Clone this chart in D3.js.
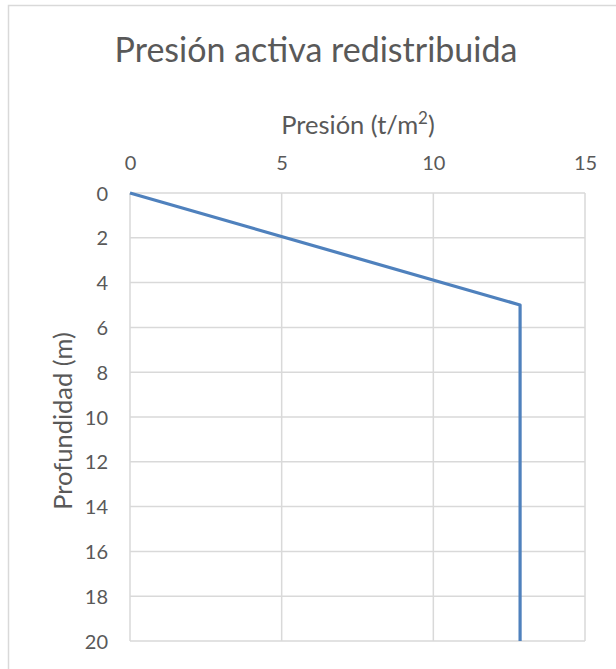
<!DOCTYPE html>
<html lang="es">
<head>
<meta charset="utf-8">
<title>Presión activa redistribuida</title>
<script src="https://cdn.jsdelivr.net/npm/d3@7"></script>
<style>
  body { margin: 0; background: #fff; }
  text { font-family: Lato, "Open Sans", sans-serif; fill: #595959; }
</style>
</head>
<body>
<script>
// datos
var presion = [0, 12.86, 12.86];
var profundidad = [0, 5, 20];
var xTicks = [0, 5, 10, 15];
var yTicks = [0, 2, 4, 6, 8, 10, 12, 14, 16, 18, 20];

var width = 616, height = 669;
var margin = {left: 130, right: 31, top: 193, bottom: 28};

var svg = d3.select("body").append("svg")
    .attr("width", width)
    .attr("height", height);

// marco del area del grafico
svg.append("rect")
    .attr("x", 8.5).attr("y", 5.5)
    .attr("width", width + 10).attr("height", height + 10)
    .attr("fill", "none").attr("stroke", "#d9d9d9").attr("stroke-width", 1.5);

var x = d3.scaleLinear().domain([0, 15]).range([margin.left, width - margin.right]);
var y = d3.scaleLinear().domain([0, 20]).range([margin.top, height - margin.bottom]);

// rejilla
svg.append("g").selectAll("line.v")
   .data(xTicks).enter().append("line")
   .attr("x1", function(d){ return x(d); }).attr("x2", function(d){ return x(d); })
   .attr("y1", y(0)).attr("y2", y(20))
   .attr("stroke", "#d9d9d9").attr("stroke-width", 1.5);

svg.append("g").selectAll("line.h")
   .data(yTicks).enter().append("line")
   .attr("x1", x(0)).attr("x2", x(15))
   .attr("y1", function(d){ return y(d); }).attr("y2", function(d){ return y(d); })
   .attr("stroke", "#d9d9d9").attr("stroke-width", 1.5);

// ejes
var xAxis = svg.append("g")
    .attr("transform", "translate(0," + (margin.top - 23) + ")")
    .call(d3.axisTop(x).tickValues(xTicks).tickSize(0).tickPadding(0));
xAxis.select(".domain").remove();
xAxis.selectAll("text").style("font-size", "20px").attr("dy", 0);

var yAxis = svg.append("g")
    .attr("transform", "translate(" + (margin.left - 22) + ",0)")
    .call(d3.axisLeft(y).tickValues(yTicks).tickSize(0).tickPadding(0));
yAxis.select(".domain").remove();
yAxis.selectAll("text").style("font-size", "20px").attr("dy", "0.35em");

// linea
var line = d3.line()
    .x(function(d, i){ return x(presion[i]); })
    .y(function(d, i){ return y(profundidad[i]); });

svg.append("path")
    .datum(presion)
    .attr("d", line)
    .attr("fill", "none")
    .attr("stroke", "#4f81bd")
    .attr("stroke-width", 3.2)
    .attr("stroke-linejoin", "round");

// titulos
svg.append("text")
    .attr("x", 316).attr("y", 62)
    .attr("text-anchor", "middle")
    .style("font-size", "34px")
    .text("Presión activa redistribuida");

var xt = svg.append("text")
    .attr("x", 358).attr("y", 134)
    .attr("text-anchor", "middle")
    .style("font-size", "25.5px")
    .text("Presión (t/m");
xt.append("tspan").text("2").style("font-size", "17px").attr("dy", -10);
xt.append("tspan").text(")").attr("dy", 10);

svg.append("text")
    .attr("transform", "translate(72,421) rotate(-90)")
    .attr("text-anchor", "middle")
    .style("font-size", "25.5px")
    .text("Profundidad (m)");
</script>
</body>
</html>
